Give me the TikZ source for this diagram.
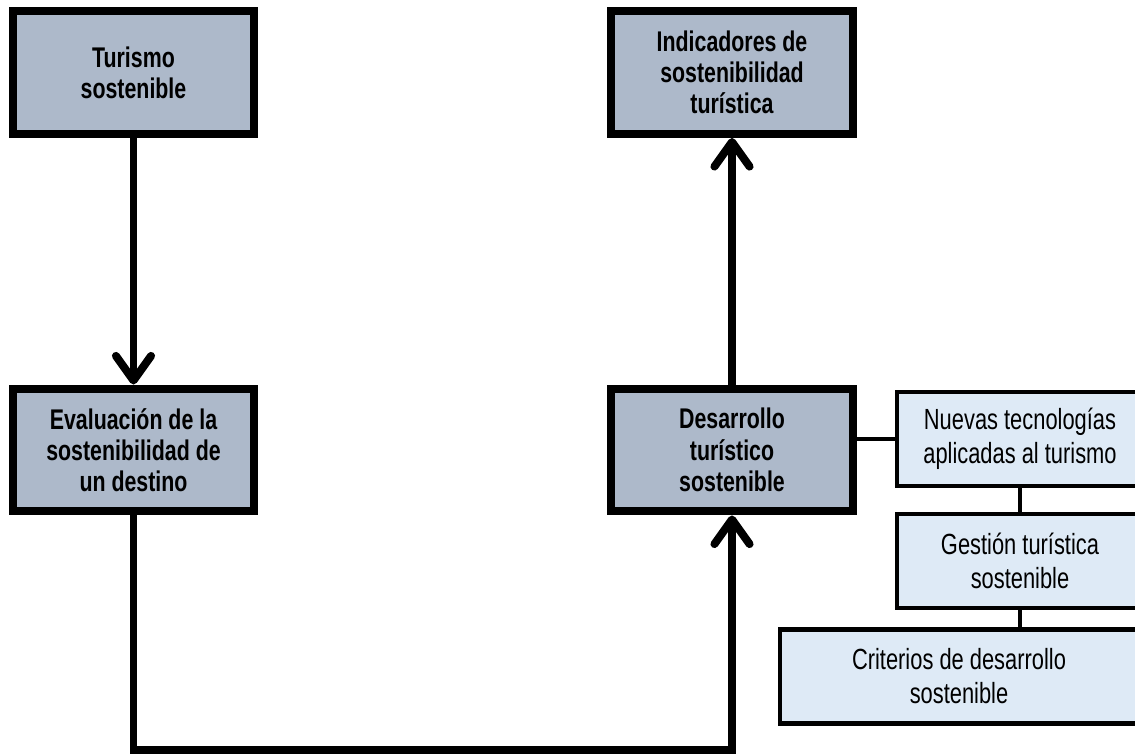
\documentclass[tikz,border=0pt]{standalone}
\usepackage{fontspec}
\setmainfont[FakeStretch=0.75]{Liberation Sans}
\usetikzlibrary{arrows.meta}
\definecolor{boxdark}{RGB}{173,185,202}
\definecolor{boxlight}{RGB}{222,234,246}

\begin{document}
\begin{tikzpicture}[x=0.02cm,y=-0.02cm,line join=miter,
  mainbox/.style={draw=black,fill=boxdark,line width=4.55pt,inner sep=0pt,
    minimum width=4.84cm,minimum height=2.46cm,align=center,
    font=\fontsize{16.2}{17.8}\selectfont\bfseries},
  subbox/.style={draw=black,fill=boxlight,line width=2.3pt,inner sep=0pt,
    minimum height=1.88cm,align=center,font=\fontsize{16.6}{19.4}\selectfont},
  flow/.style={line width=4.55pt,-{Straight Barb[length=14pt,width=20pt,round]}},
  link/.style={line width=2.3pt}]

  \useasboundingbox (0,0) rectangle (1135,756);
  \clip (0,0) rectangle (1135,756);

  \node (node_turismo) at (133.5,72.5) [mainbox] {Turismo\\sostenible};
  \node (node_indicadores) at (732,72.5) [mainbox] {Indicadores de\\sostenibilidad\\turística};
  \node (node_evaluacion) at (133.5,450) [mainbox] {Evaluación de la\\sostenibilidad de\\un destino};
  \node (node_desarrollo) at (732,450) [mainbox] {Desarrollo\\turístico\\sostenible};

  \node (node_nuevas) at (1020,439) [subbox,minimum width=4.92cm] {Nuevas tecnologías\\aplicadas al turismo};
  \node (node_gestion) at (1020,561) [subbox,minimum width=4.92cm] {Gestión turística\\sostenible};
  \node (node_criterios) at (959,676.5) [subbox,minimum width=7.16cm] {Criterios de desarrollo\\sostenible};

  \draw [flow] (node_turismo) -- (node_evaluacion);
  \draw [flow] (node_evaluacion.south) -- ++(0,235) -| (node_desarrollo.south);
  \draw [flow] (node_desarrollo) -- (node_indicadores);

  \draw [link] (node_desarrollo.east |- node_nuevas.west) -- (node_nuevas.west);
  \draw [link] (node_nuevas) -- (node_gestion);
  \draw [link] (node_gestion.south) -- (node_gestion.south |- node_criterios.north);
%
\end{tikzpicture}
\end{document}
